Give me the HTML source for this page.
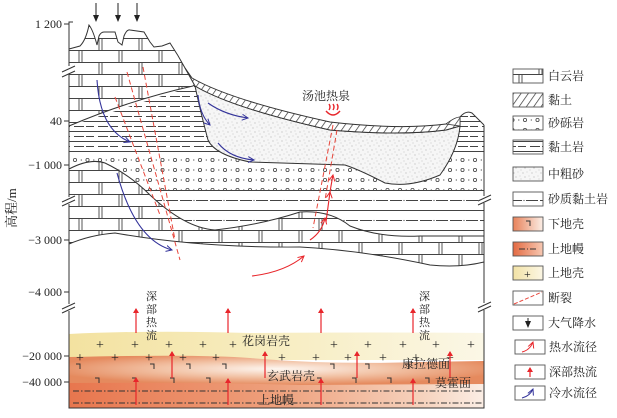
<!DOCTYPE html>
<html><head><meta charset="utf-8"><style>
html,body{margin:0;padding:0;background:#fff}
svg{display:block}
text{font-family:"Liberation Serif","Noto Serif CJK SC","Noto Sans CJK SC",serif;fill:#222}
</style></head><body>
<svg width="617" height="418" viewBox="0 0 617 418" xmlns="http://www.w3.org/2000/svg">
<defs>
<pattern id="dolo" width="40" height="24" patternUnits="userSpaceOnUse" x="69" y="2">
<rect width="40" height="24" fill="#fff"/>
<path d="M0,0.5H40M0,12.5H40M10,0V12M13,0V12M30,12V24M33,12V24" stroke="#444" stroke-width="0.9" fill="none"/>
</pattern>
<pattern id="clayr" width="24" height="10" patternUnits="userSpaceOnUse" y="1">
<rect width="24" height="10" fill="#fff"/>
<path d="M0,0.5H24M2,5.5H12M14,5.5H22" stroke="#444" stroke-width="0.9"/>
</pattern>
<pattern id="congl" width="12.5" height="10" patternUnits="userSpaceOnUse" x="72" y="155">
<rect width="12.5" height="10" fill="#fff"/>
<circle cx="3" cy="5" r="1.6" fill="none" stroke="#444" stroke-width="0.8"/>
<circle cx="9.3" cy="5" r="0.6" fill="#444"/>
</pattern>
<pattern id="sclay" width="30" height="20" patternUnits="userSpaceOnUse" y="190">
<rect width="30" height="20" fill="#fff"/>
<path d="M0,0.5H30M0,10.5H12M16,10.5H28" stroke="#444" stroke-width="0.9"/>
<circle cx="14" cy="10.5" r="0.6" fill="#444"/>
</pattern>
<pattern id="hatch" width="6" height="6" patternUnits="userSpaceOnUse" patternTransform="rotate(35)">
<rect width="6" height="6" fill="#fff"/>
<path d="M0,0V6" stroke="#333" stroke-width="1.4"/>
</pattern>
<pattern id="sand" width="9" height="9" patternUnits="userSpaceOnUse">
<rect width="9" height="9" fill="#f6f6f6"/>
<circle cx="1" cy="2" r="0.45" fill="#888"/><circle cx="5" cy="1" r="0.4" fill="#999"/>
<circle cx="3" cy="6" r="0.45" fill="#888"/><circle cx="7" cy="5" r="0.4" fill="#999"/>
<circle cx="8" cy="8" r="0.4" fill="#888"/>
</pattern>
<linearGradient id="gy" x1="0" x2="1"><stop offset="0" stop-color="#f3e2a0"/><stop offset="0.6" stop-color="#f8efc8"/><stop offset="1" stop-color="#fbf7e6"/></linearGradient>
<radialGradient id="go" cx="0.5" cy="0.45" r="0.55"><stop offset="0" stop-color="#fdf6f0"/><stop offset="0.5" stop-color="#f2c3a6"/><stop offset="1" stop-color="#e58a5e"/></radialGradient>
<linearGradient id="gm" x1="0" x2="1"><stop offset="0" stop-color="#e8764e"/><stop offset="0.5" stop-color="#eea07c"/><stop offset="0.85" stop-color="#f6d2bd"/><stop offset="1" stop-color="#fbeee5"/></linearGradient>
<linearGradient id="lo" x1="0" x2="1"><stop offset="0" stop-color="#e8825a"/><stop offset="1" stop-color="#fbeee6"/></linearGradient>
<linearGradient id="lm" x1="0" x2="1"><stop offset="0" stop-color="#e36a42"/><stop offset="1" stop-color="#f7c9b3"/></linearGradient>
<linearGradient id="ly" x1="0" x2="1"><stop offset="0" stop-color="#f2e2a6"/><stop offset="1" stop-color="#fbf6e4"/></linearGradient>
<marker id="ab" markerWidth="8" markerHeight="8" refX="6" refY="4" orient="auto" markerUnits="userSpaceOnUse"><path d="M0,1L6,4L0,7" fill="none" stroke="#33339a" stroke-width="1"/></marker>
<marker id="ar" markerWidth="8" markerHeight="8" refX="6" refY="4" orient="auto" markerUnits="userSpaceOnUse"><path d="M0,1L6,4L0,7" fill="none" stroke="#e8262b" stroke-width="1"/></marker>
<marker id="ar2" markerWidth="6" markerHeight="6" refX="4" refY="3" orient="auto" markerUnits="userSpaceOnUse"><path d="M0,0L5,3L0,6Z" fill="#e8262b"/></marker>
<marker id="ak" markerWidth="8" markerHeight="8" refX="6" refY="4" orient="auto" markerUnits="userSpaceOnUse"><path d="M0,1L7,4L0,7Z" fill="#222"/></marker>
</defs>

<!-- crust -->
<path d="M69,334 Q150,330 250,333 Q380,332 484,333 V360 H69Z" fill="url(#gy)"/>
<path d="M69,357 Q200,354 250,358 Q330,365 420,362 L484,361 V385 H69Z" fill="url(#go)"/>
<path d="M69,383 Q200,382 300,385 L484,384 V408 H69Z" fill="url(#gm)"/>
<path d="M73,391H484M73,403H484" stroke="#333" stroke-width="0.9" stroke-dasharray="6,2,1.5,2" fill="none"/>
<g font-family="Liberation Sans" font-size="14" fill="#333">
<text x="96" y="349">+</text><text x="131" y="349">+</text><text x="165" y="349">+</text><text x="199" y="349">+</text><text x="229" y="349">+</text><text x="330" y="349">+</text><text x="364" y="349">+</text><text x="399" y="349">+</text><text x="432" y="349">+</text><text x="467" y="349">+</text>
<text x="76" y="362">+</text><text x="111" y="362">+</text><text x="145" y="362">+</text><text x="179" y="362">+</text><text x="212" y="362">+</text><text x="278" y="362">+</text><text x="312" y="362">+</text><text x="344" y="362">+</text><text x="379" y="362">+</text><text x="412" y="362">+</text><text x="446" y="362">+</text>
</g>
<g stroke="#333" stroke-width="1" fill="none">
<path d="M76,364h4v5M150,364h4v5M186,364h4v5M222,364h4v5M330,364h4v5M365,364h4v5M405,364h4v5"/>
<path d="M95,378h4v5M132,378h4v5M170,378h4v5M206,378h4v5M317,378h4v5M352,378h4v5M387,378h4v5M425,378h4v5"/>
</g>
<g stroke="#e8262b" stroke-width="1.2" marker-end="url(#ar2)">
<path d="M136,333V309"/><path d="M228,333V309"/><path d="M321,333V309"/><path d="M413,333V309"/>
<path d="M172,378V352"/><path d="M265,378V352"/><path d="M357,378V352"/><path d="M450,378V352"/>
<path d="M136,405V378"/><path d="M228,405V379"/><path d="M321,405V379"/><path d="M413,405V379"/>
</g>
<g font-size="12">
<text x="242" y="345">花岗岩壳</text>
<text x="267" y="380">玄武岩壳</text>
<text x="402" y="368">康拉德面</text>
<text x="435" y="387">莫霍面</text>
<text x="258" y="404">上地幔</text>
</g>
<g font-size="11"><text x="146" y="300">深</text><text x="146" y="313">部</text><text x="146" y="326">热</text><text x="146" y="339">流</text>
<text x="419" y="300">深</text><text x="419" y="313">部</text><text x="419" y="326">热</text><text x="419" y="339">流</text></g>

<!-- strata -->
<path d="M69,126 L193,86 L192,78 Q230,100 330,122 Q400,130 446,124 L460,117 Q466,110 472,113 L484,125 V160 H69 Z" fill="url(#clayr)"/>
<rect x="69" y="155" width="415" height="36" fill="url(#congl)"/>
<rect x="69" y="190" width="415" height="50" fill="url(#sclay)"/>
<path d="M69,169 Q90,158 105,163 Q130,175 150,195 Q185,228 215,230 Q260,225 300,212 Q330,210 350,226 Q380,238 420,236 L484,236 V262 Q460,268 430,265 Q360,250 300,247 Q200,248 115,233 Q90,235 69,244Z" fill="url(#dolo)" stroke="#333" stroke-width="1"/>
<path d="M69,49 L80,46 Q86,40 89,25 Q93,30 97,45 L99,36 Q101,32 104,32 L115,32 L118,42 L122,45 L124,36 Q127,29 130,30 L144,32 L150,42 L154,47 L162,46 L170,43 Q178,55 185,68 L195,84 L193,86 Q130,100 69,126Z" fill="url(#dolo)" stroke="#333" stroke-width="1"/>
<!-- sand lens -->
<path d="M195,86 Q232,108 330,130 Q400,136 446,130 L460,126 Q458,150 440,175 Q410,188 385,183 Q360,170 345,165 L250,162 Q215,155 208,140 Q200,110 195,86Z" fill="url(#sand)" stroke="#333" stroke-width="1"/>
<!-- clay band -->
<path d="M185,68 L192,78 Q230,100 330,122 Q400,130 446,124 L460,117 L460,126 L446,130 Q400,136 330,130 Q232,108 195,86 Z" fill="url(#hatch)" stroke="#333" stroke-width="1"/>
<path d="M460,117 Q466,110 472,113 L484,125" fill="none" stroke="#333"/>
<path d="M446,124 Q455,117 460,117 L460,126Z" fill="url(#hatch)" stroke="#333" stroke-width="0.8"/>
<path d="M69,244 V408 H484 V125" fill="none" stroke="#333" stroke-width="1"/>
<path d="M69,49 V22 H73" fill="none" stroke="#333" stroke-width="1"/>
<path d="M69,49V244" stroke="#333" stroke-width="1"/>
<!-- break marks -->
<g stroke="#333" stroke-width="1" fill="none">
<rect x="60" y="66" width="15" height="8" fill="#fff" stroke="none"/><path d="M62,72 L75,66M62,77 L75,71"/>
<rect x="60" y="197" width="15" height="7" fill="#fff" stroke="none"/><path d="M62,202 L75,196M62,206 L75,200"/>
<rect x="478" y="196" width="14" height="7" fill="#fff" stroke="none"/><path d="M478,201 L491,195M478,205 L491,199"/>
<rect x="60" y="304" width="15" height="7" fill="#fff" stroke="none"/><path d="M62,309 L75,303M62,313 L75,307"/>
<rect x="478" y="303" width="14" height="7" fill="#fff" stroke="none"/><path d="M478,308 L491,302M478,312 L491,306"/>
<path d="M64,24H69M64,121H69M64,165H69M64,240H69M64,292H69M64,356H69M64,382H69"/>
</g>
<g font-size="12" text-anchor="end">
<text x="62" y="28">1 200</text><text x="62" y="125">40</text><text x="62" y="169">−1 000</text><text x="62" y="244">−3 000</text><text x="62" y="296">−4 000</text><text x="62" y="360">−20 000</text><text x="62" y="386">−40 000</text>
</g>
<text transform="translate(16,228) rotate(-90)" font-size="13">高程/m</text>
<!-- rain -->
<g stroke="#222" stroke-width="1" marker-end="url(#ak)"><path d="M96,3V21"/><path d="M118,3V21"/><path d="M137,3V21"/></g>
<!-- faults -->
<g stroke="#e8463b" stroke-width="1" stroke-dasharray="5,3" fill="none">
<path d="M127,72 L180,260"/><path d="M143,67 L175,240"/><path d="M115,97 L160,215"/>
<path d="M333,125 L313,228"/><path d="M337,130 L325,200"/>
</g>
<!-- cold water -->
<g stroke="#33339a" stroke-width="1.1" fill="none" marker-end="url(#ab)">
<path d="M97,80 Q100,130 130,142"/>
<path d="M117,173 Q135,240 172,250"/>
<path d="M198,95 Q200,115 210,125"/>
<path d="M208,103 Q225,115 248,118"/>
<path d="M218,143 Q230,158 254,160"/>
</g>
<g stroke="#e8262b" stroke-width="1.1" fill="none" marker-end="url(#ar)">
<path d="M310,240 Q322,232 325,218"/>
<path d="M326,222 L330,192"/>
<path d="M330,192 Q332,180 333,175"/>
<path d="M252,276 Q285,272 304,256"/>
</g>
<text x="302" y="100" font-size="12" fill="#444">汤池热泉</text>
<path d="M329,104 q2,3 0,6 M333,104 q2,3 0,6 M337,104 q2,3 0,6 M326,111 q7,8 14,0" stroke="#e8262b" stroke-width="1.4" fill="none"/>
<!-- legend -->
<g stroke="#555" stroke-width="0.9">
<rect x="513" y="69" width="30" height="14" fill="url(#dolo)"/>
<rect x="513" y="93" width="30" height="14" fill="url(#hatch)"/>
<rect x="513" y="116" width="30" height="14" fill="url(#congl)"/>
<rect x="513" y="140" width="30" height="14" fill="url(#clayr)"/>
<rect x="513" y="167" width="30" height="14" fill="url(#sand)"/>
<rect x="513" y="192" width="30" height="14" fill="url(#sclay)"/>
<rect x="513" y="217" width="30" height="14" fill="url(#lo)"/>
<rect x="513" y="242" width="30" height="14" fill="url(#lm)"/>
<rect x="513" y="266" width="30" height="14" fill="url(#ly)"/>
<rect x="513" y="291" width="30" height="14" fill="#fff"/>
<rect x="513" y="316" width="30" height="14" fill="#fff"/>
<rect x="515" y="340" width="30" height="14" fill="#fff"/>
<rect x="515" y="365" width="30" height="14" fill="#fff"/>
<rect x="515" y="386" width="30" height="14" fill="#fff"/>
</g>
<path d="M526,221h4v5" stroke="#333" fill="none"/>
<path d="M519,249h6M527,249h1M530,249h6" stroke="#333"/>
<text x="524" y="278" font-family="Liberation Sans" font-size="12" fill="#333">+</text>
<path d="M514,304 L542,292" stroke="#e8463b" stroke-dasharray="4,2"/>
<path d="M528,318V327" stroke="#222" marker-end="url(#ak)"/>
<path d="M522,352 Q530,350 533,342" stroke="#e8262b" fill="none" marker-end="url(#ar)"/>
<path d="M530,377V368" stroke="#e8262b" stroke-width="1.2" marker-end="url(#ar2)"/>
<path d="M522,398 Q530,396 533,389" stroke="#33339a" fill="none" marker-end="url(#ab)"/>
<g font-size="12">
<text x="548" y="80">白云岩</text><text x="548" y="104">黏土</text><text x="548" y="127">砂砾岩</text><text x="548" y="151">黏土岩</text><text x="548" y="178">中粗砂</text><text x="548" y="203">砂质黏土岩</text><text x="548" y="228">下地壳</text><text x="548" y="253">上地幔</text><text x="548" y="277">上地壳</text><text x="548" y="302">断裂</text><text x="548" y="327">大气降水</text><text x="549" y="351">热水流径</text><text x="549" y="376">深部热流</text><text x="549" y="397">冷水流径</text>
</g>
</svg>
</body></html>
